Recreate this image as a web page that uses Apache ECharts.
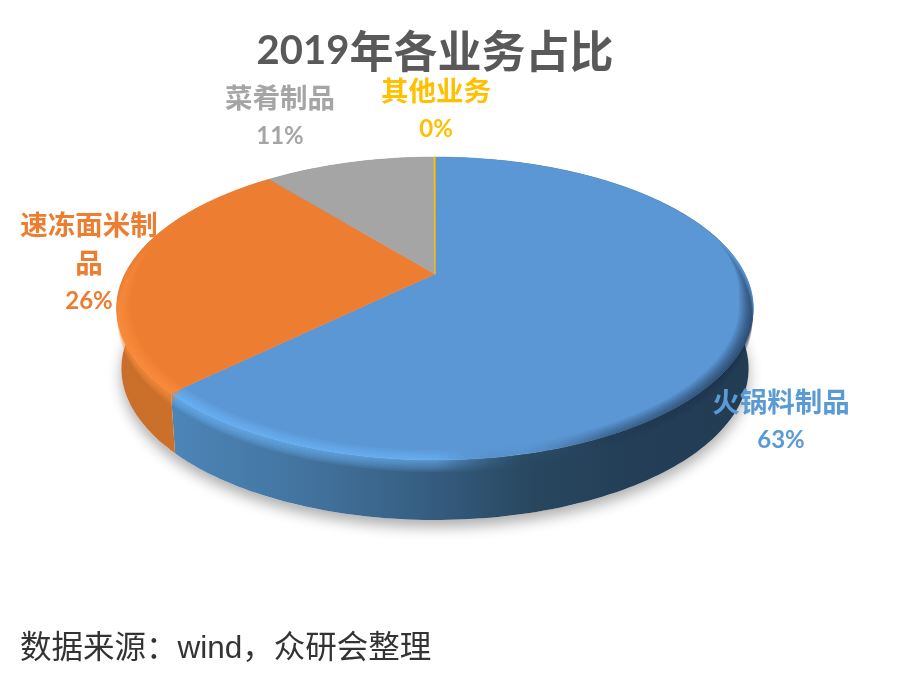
<!DOCTYPE html>
<html>
<head>
<meta charset="utf-8">
<style>html,body{margin:0;padding:0;background:#fff}#c{width:899px;height:676px}</style>
<script src="https://cdn.jsdelivr.net/npm/echarts@6/dist/echarts.min.js"></script>
</head>
<body>
<div id="c"></div>
<script>
// Data
const categories = ['火锅料制品', '速冻面米制品', '菜肴制品', '其他业务'];
const shares = [62.7, 26.45, 10.8, 0.05];
const labelLines = [['火锅料制品'], ['速冻面米制', '品'], ['菜肴制品'], ['其他业务']];
const titleYear = '2019';
const titleRest = '年各业务占比';
const sourceText = '数据来源：wind，众研会整理';

// Style / layout
const topColors = ['#5B97D5', '#ED7D31', '#A5A5A5', '#FFC000'];
const labelColors = ['#5B9BD5', '#ED7D31', '#A5A5A5', '#FFC000'];
const labelAnchors = [[781, 421], [89, 263], [280, 117], [436, 110]];
const wallStops = [
  [[0, '#4C85B8'], [0.22, '#43749F'], [0.42, '#375F84'], [0.62, '#28475F'], [0.8, '#233E56'], [1, '#223C54']],
  [[0, '#C86F2B'], [1, '#CC7029']],
  [[0, '#777'], [1, '#777']],
  [[0, '#B88A00'], [1, '#B88A00']]
];
const rimStops = [
  [[0, 'rgba(110,185,255,0.6)'], [0.45, 'rgba(110,185,255,0.5)'], [0.6, 'rgba(60,100,140,0.05)'], [0.75, 'rgba(30,55,80,0.4)'], [1, 'rgba(25,45,70,0.65)']],
  [[0, 'rgba(255,145,65,0.6)'], [1, 'rgba(255,145,65,0.6)']],
  null, null
];
const rimRange = [[70, 236], [218, 296], null, null];
const rimLayers = [[0.005, 1.5], [0.01, 3], [0.015, 4.5], [0.02, 6], [0.025, 7.5], [0.03, 9], [0.036, 10.5], [0.042, 12]];

// Projection of the disc (perspective, apex off the outline's centre)
const CX = 435, CY = 274, A = 310, B = 143.6, K = 0.228, DEPTH = 60;
function project(deg, r, d) {
  const t = deg * Math.PI / 180;
  const u = r * Math.sin(t), v = -r * Math.cos(t);
  const q = 1 - K * v;
  const s = 1 - 0.015 * d / DEPTH;
  return [CX + s * A * u / q, CY + B * v / q + d];
}
function arc(a0, a1, r, d) {
  const n = Math.max(2, Math.ceil(Math.abs(a1 - a0) / 1.2));
  const p = [];
  for (let i = 0; i <= n; i++) p.push(project(a0 + (a1 - a0) * i / n, r, d));
  return p;
}
const total = shares.reduce((a, b) => a + b, 0);
function sliceRange(i) {
  let s = 0;
  for (let k = 0; k < i; k++) s += shares[k];
  return [s / total * 360, (s + shares[i]) / total * 360];
}
const grad = (stops, x0, x1) => ({
  type: 'linear', x: x0, y: 0, x2: x1, y2: 0, global: true,
  colorStops: stops.map(s => ({ offset: s[0], color: s[1] }))
});
const seriesData = shares.map((v, i) => ({ name: categories[i], value: v }));

function renderShadow(params) {
  if (params.dataIndex !== 0) return null;
  return {
    type: 'polygon',
    shape: { points: arc(0, 360, 1, DEPTH) },
    style: { fill: '#fff', shadowBlur: 14, shadowColor: 'rgba(0,0,0,0.32)', shadowOffsetY: 7, shadowOffsetX: 0 },
    silent: true
  };
}
function renderWall(params) {
  const i = params.dataIndex, r = sliceRange(i);
  const top = arc(r[0], r[1], 1, 0), low = arc(r[1], r[0], 1, DEPTH);
  return {
    type: 'polygon',
    shape: { points: top.concat(low) },
    style: { fill: i === 1 ? grad(wallStops[i], 117, 180) : grad(wallStops[i], 175, 753) },
    silent: true
  };
}
function renderTop(params) {
  const i = params.dataIndex, r = sliceRange(i);
  const children = [{
    type: 'polygon',
    shape: { points: [[CX, CY]].concat(arc(r[0], r[1], 1, 0)) },
    style: { fill: topColors[i], stroke: topColors[i], lineWidth: i === 3 ? 1.2 : 0.5, lineJoin: 'round' },
    silent: true
  }];
  const rng = rimRange[i];
  if (rng) {
    const a0 = Math.max(r[0], rng[0]), a1 = Math.min(r[1], rng[1]);
    rimLayers.forEach(w => {
      const n = Math.ceil((a1 - a0) / 1.5), inner = [], outer = [];
      for (let k = 0; k <= n; k++) {
        const a = a0 + (a1 - a0) * k / n;
        const e0 = Math.min(1, (a - rng[0]) / 30), e1 = Math.min(1, (rng[1] - a) / 30);
        const taper = (i === 0 ? e0 : 1) * (i === 1 ? e1 : 1);
        inner.push(project(a, 1 - w[0] * taper, 0));
        outer.push(project(a, 1, w[1] * taper));
      }
      children.push({
        type: 'polygon',
        shape: { points: inner.concat(outer.reverse()) },
        style: { fill: grad(rimStops[i], 175, 753), opacity: 0.2 },
        silent: true
      });
    });
  }
  return { type: 'group', children: children };
}
function renderLabel(params) {
  const i = params.dataIndex;
  const pct = Math.round(shares[i] / total * 100) + '%';
  const c = labelColors[i];
  return {
    type: 'text',
    style: {
      text: labelLines[i].map(t => '{n|' + t + '}').join('\n') + '\n{p|' + pct + '}',
      x: labelAnchors[i][0], y: labelAnchors[i][1],
      align: 'center', verticalAlign: 'middle',
      rich: {
        n: { fill: c, font: 'bold 27.5px "Noto Sans CJK SC", sans-serif', lineHeight: 38 },
        p: { fill: c, font: 'bold 24px "Lato", "Noto Sans CJK SC", sans-serif', lineHeight: 38 }
      }
    },
    silent: true
  };
}
const mk = (fn, z) => ({ type: 'custom', coordinateSystem: 'none', renderItem: fn, data: seriesData, z: z, silent: true, animation: false, clip: false });

const chart = echarts.init(document.getElementById('c'), null, { renderer: 'canvas' });
chart.setOption({
  animation: false,
  backgroundColor: '#fff',
  title: {
    text: '{d|' + titleYear + '}{c|' + titleRest + '}', left: 430, top: 24, textAlign: 'center',
    textStyle: {
      color: '#595959',
      rich: {
        d: { fontFamily: 'Lato, sans-serif', fontSize: 40, fontWeight: 'bold', color: '#595959' },
        c: { fontFamily: '"Noto Sans CJK SC", sans-serif', fontSize: 44, fontWeight: 'bold', color: '#595959' }
      }
    }
  },
  series: [mk(renderShadow, 1), mk(renderWall, 2), mk(renderTop, 3), mk(renderLabel, 4)],
  graphic: [{
    type: 'text', left: 20, top: 634,
    style: { text: sourceText, fill: '#333', font: '31.5px "Liberation Sans", "Noto Sans CJK SC", sans-serif' }
  }]
});
</script>
</body>
</html>
